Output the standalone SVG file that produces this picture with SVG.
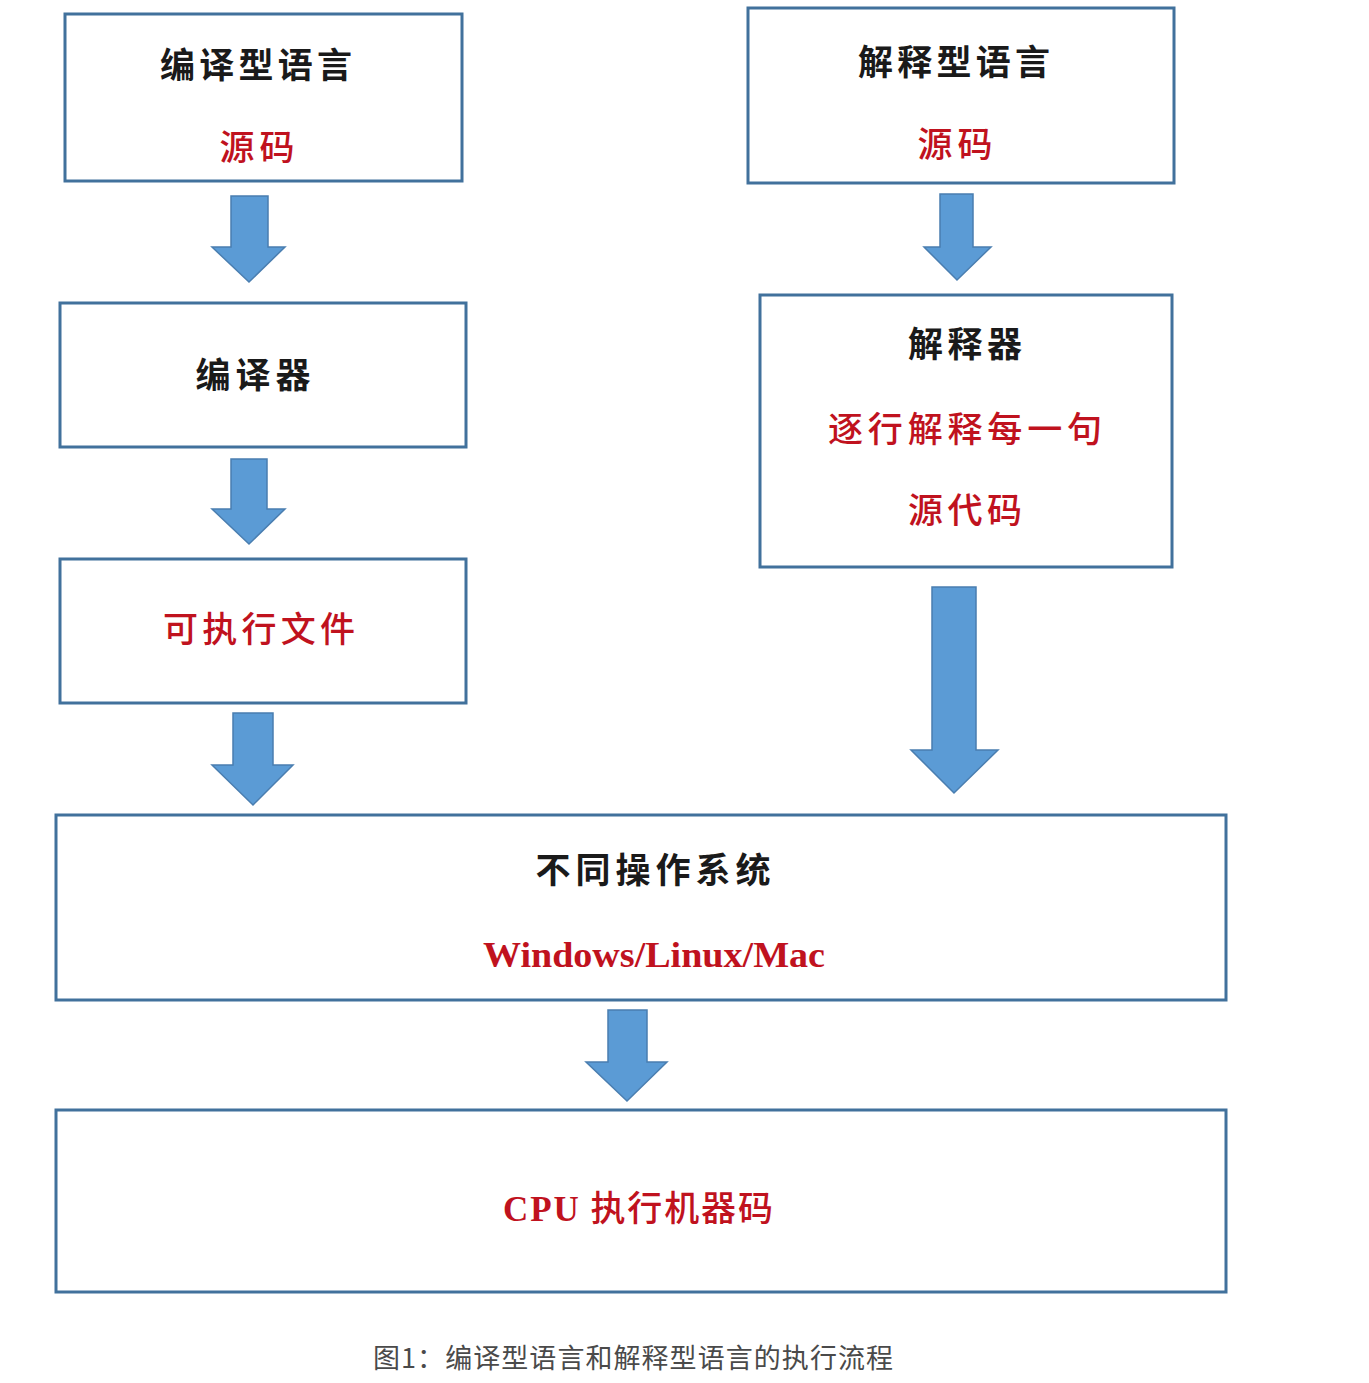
<svg xmlns="http://www.w3.org/2000/svg" width="1369" height="1383" viewBox="0 0 1369 1383">
<defs>
<style>
.box{fill:#fff;stroke:#41719C;stroke-width:3}
.arr{fill:#5B9BD5;stroke:#4A7EB0;stroke-width:1.5;stroke-linejoin:miter}
.t{font-family:"Noto Sans CJK SC","Noto Sans",sans-serif;font-size:35px;font-weight:700;text-anchor:middle;fill:#1a1a1a}
.r{fill:#C0121E;font-weight:500}
.en{font-family:"Liberation Serif",serif;font-weight:700;fill:#C0121E}
.cap{font-family:"Noto Sans CJK SC","Noto Sans",sans-serif;font-size:27px;fill:#4a4a4a;text-anchor:middle}
</style>
</defs>
<rect width="1369" height="1383" fill="#fff"/>
<g id="connectors">
<path class="arr" d="M231,196 H268 V247 H285 L249,282 L212,247 H231 Z"/>
<path class="arr" d="M940,194 H973 V247 H991 L957,280 L924,247 H940 Z"/>
<path class="arr" d="M231,459 H267 V509 H285 L249,544 L212,509 H231 Z"/>
<path class="arr" d="M233,713 H273 V765 H293 L253,805 L212,765 H233 Z"/>
<path class="arr" d="M932,587 H976 V750 H998 L954,793 L911,750 H932 Z"/>
<path class="arr" d="M608,1010 H647 V1062 H667 L627,1101 L586,1062 H608 Z"/>
</g>
<g id="n1"><rect class="box" x="65" y="14" width="397" height="167"/>
<text class="t" x="256" y="78" textLength="192" lengthAdjust="spacing">编译型语言</text>
<text class="t r" x="257" y="160" textLength="75" lengthAdjust="spacing">源码</text></g>
<g id="n2"><rect class="box" x="748" y="8" width="426" height="175"/>
<text class="t" x="954" y="75" textLength="192" lengthAdjust="spacing">解释型语言</text>
<text class="t r" x="955" y="157" textLength="75" lengthAdjust="spacing">源码</text></g>
<g id="n3"><rect class="box" x="60" y="303" width="406" height="144"/>
<text class="t" x="253" y="388" textLength="115" lengthAdjust="spacing">编译器</text></g>
<g id="n4"><rect class="box" x="760" y="295" width="412" height="272"/>
<text class="t" x="965" y="357" textLength="114" lengthAdjust="spacing">解释器</text>
<text class="t r" x="965" y="442" textLength="274" lengthAdjust="spacing">逐行解释每一句</text>
<text class="t r" x="965" y="523" textLength="114" lengthAdjust="spacing">源代码</text></g>
<g id="n5"><rect class="box" x="60" y="559" width="406" height="144"/>
<text class="t r" x="259" y="642" textLength="192" lengthAdjust="spacing">可执行文件</text></g>
<g id="n6"><rect class="box" x="56" y="815" width="1170" height="185"/>
<text class="t" x="653" y="883" textLength="235" lengthAdjust="spacing">不同操作系统</text>
<text class="t en" x="654" y="967" font-size="37" textLength="342" lengthAdjust="spacingAndGlyphs">Windows/Linux/Mac</text></g>
<g id="n7"><rect class="box" x="56" y="1110" width="1170" height="182"/>
<text class="t r" x="638" y="1221" textLength="270" lengthAdjust="spacing"><tspan class="en">CPU</tspan> 执行机器码</text></g>
<text class="cap" x="633" y="1368" textLength="520" lengthAdjust="spacing">图1：编译型语言和解释型语言的执行流程</text>
</svg>
